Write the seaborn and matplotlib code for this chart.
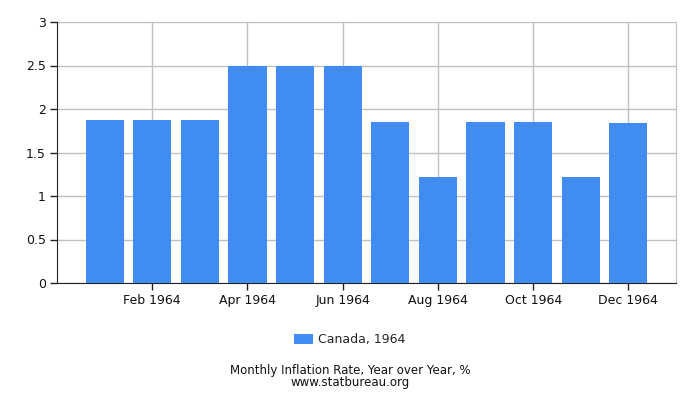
import matplotlib
matplotlib.use("Agg")
import matplotlib.pyplot as plt
import seaborn as sns
import pandas as pd
from matplotlib.patches import Patch

months = ["Jan 1964", "Feb 1964", "Mar 1964", "Apr 1964", "May 1964", "Jun 1964",
          "Jul 1964", "Aug 1964", "Sep 1964", "Oct 1964", "Nov 1964", "Dec 1964"]
values = [1.87, 1.87, 1.87, 2.50, 2.50, 2.50, 1.85, 1.22, 1.85, 1.85, 1.22, 1.84]
yticks = [0, 0.5, 1, 1.5, 2, 2.5, 3]
ytick_labels = ["0", "0.5", "1", "1.5", "2", "2.5", "3"]
series_name = "Canada, 1964"
footer1 = "Monthly Inflation Rate, Year over Year, %"
footer2 = "www.statbureau.org"

sns.set_style("white")
plt.rcParams['font.family'] = ['DejaVu Sans']

df = pd.DataFrame({"month": months, "value": values})

fig = plt.figure(figsize=(7, 4), dpi=100)
ax = fig.add_axes([57/700, 117/400, (676-57)/700, (283-22)/400])
bar_color = "#418CF0"
sns.barplot(data=df, x="month", y="value", order=months, color=bar_color,
            width=0.8, saturation=1, ax=ax, zorder=3, linewidth=0, edgecolor="none")

ax.set_xlim(-1, 12)
ax.set_ylim(0, 3)
tick_idx = [1, 3, 5, 7, 9, 11]
ax.set_xticks(tick_idx)
ax.set_xticklabels([months[i] for i in tick_idx], fontsize=9, color="#111111")
ax.set_yticks(yticks)
ax.set_yticklabels(ytick_labels, fontsize=9, color="#111111")
ax.set_xlabel("")
ax.set_ylabel("")

ax.grid(True, color="#C0C0C0", linewidth=1, zorder=0)
ax.set_axisbelow(True)
ax.spines["top"].set_visible(False)
ax.spines["right"].set_color("#C0C0C0")
ax.spines["left"].set_color("#222222")
ax.spines["bottom"].set_color("#222222")
ax.tick_params(axis="both", direction="out", length=5, width=1, color="#222222",
               left=True, bottom=True, pad=3)

handle = Patch(facecolor=bar_color, edgecolor="none")
fig.legend([handle], [series_name], loc="center", bbox_to_anchor=(0.5, 1 - 340/400),
           frameon=False, fontsize=9, handlelength=1.5, handleheight=0.8, handletextpad=0.4)

fig.text(0.5, 1 - 376.5/400, footer1 + "\n" + footer2, ha="center", va="center",
         fontsize=8.5, color="#111111", linespacing=0.95)

fig.savefig("out.png", dpi=100)
